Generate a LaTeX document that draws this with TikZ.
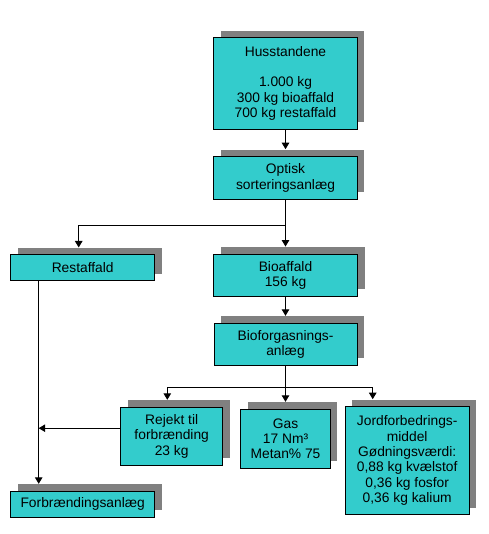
\documentclass[tikz,border=0pt]{standalone}
\usepackage{fontspec}
\setmainfont{Liberation Sans}
\usetikzlibrary{arrows.meta,shadows}
\definecolor{boxfill}{HTML}{33CCCC}
\definecolor{shadowgray}{HTML}{808080}
\begin{document}
\begin{tikzpicture}[x=1pt,y=-1pt,
  flowbox/.style={draw=black, line width=1pt, fill=boxfill, inner sep=0pt, align=center,
    font=\fontsize{13.8}{15.4}\selectfont,
    general shadow={fill=shadowgray, shadow xshift=7pt, shadow yshift=7pt}},
  conn/.style={draw=black, line width=1pt},
  arr/.style={conn, -{Triangle[width=7.5pt,length=6.5pt]}}]
\useasboundingbox (0,0) rectangle (488,534);
\node[flowbox, minimum width=143.5pt, minimum height=91.5pt] (H) at (285.5,83.3)
  {Husstandene\\\mbox{}\\1.000 kg\\300 kg bioaffald\\700 kg restaffald};
\node[flowbox, minimum width=143.5pt, minimum height=42.6pt] (O) at (285.5,178)
  {Optisk\\sorteringsanlæg};
\node[flowbox, minimum width=144pt, minimum height=25.7pt] (R) at (82.7,267.8)
  {Restaffald};
\node[flowbox, minimum width=144pt, minimum height=42.3pt] (B) at (285.5,275.2)
  {Bioaffald\\156 kg};
\node[flowbox, minimum width=143pt, minimum height=42pt] (BF) at (285.5,344.3)
  {Bioforgasnings-\\anlæg};
\node[flowbox, minimum width=144pt, minimum height=26pt] (F) at (82.7,504.3)
  {Forbrændingsanlæg};
\node[flowbox, minimum width=102pt, minimum height=57.7pt] (Rj) at (171.7,436.2)
  {Rejekt til\\forbrænding\\23 kg};
\node[flowbox, minimum width=89.4pt, minimum height=59pt] (G) at (285.5,438.8)
  {Gas\\17 Nm³\\Metan\% 75};
\node[flowbox, minimum width=123.7pt, minimum height=108pt] (J) at (407.2,460.7)
  {Jordforbedrings-\\middel\\Gødningsværdi:\\0,88 kg kvælstof\\0,36 kg fosfor\\0,36 kg kalium};
% connectors
\draw[arr] (H.south) -- ([yshift=7pt]O.north);
\draw[arr] (O.south) -- ++(0,26) -| ([xshift=-4pt,yshift=7pt]R.north);
\draw[arr] (O.south) -- ([yshift=7pt]B.north);
\draw[arr] (B.south) -- ([yshift=7pt]BF.north);
\coordinate (s2) at ([yshift=-21.4pt]BF.south);
\draw[conn] (BF.south) -- (s2);
\draw[arr] (s2) -| ([xshift=-4.4pt,yshift=7pt]Rj.north);
\draw[arr] (s2) -- ([yshift=7pt]G.north);
\draw[arr] (s2) -| ([xshift=-34.5pt,yshift=7pt]J.north);
\coordinate (rline) at ([xshift=-44pt]R.south);
\draw[arr] (rline) -- ([xshift=-44pt,yshift=7pt]F.north);
\coordinate (rj) at ([yshift=8pt]Rj.west);
\draw[arr] (rj) -- (rj -| rline);
\end{tikzpicture}
\end{document}
